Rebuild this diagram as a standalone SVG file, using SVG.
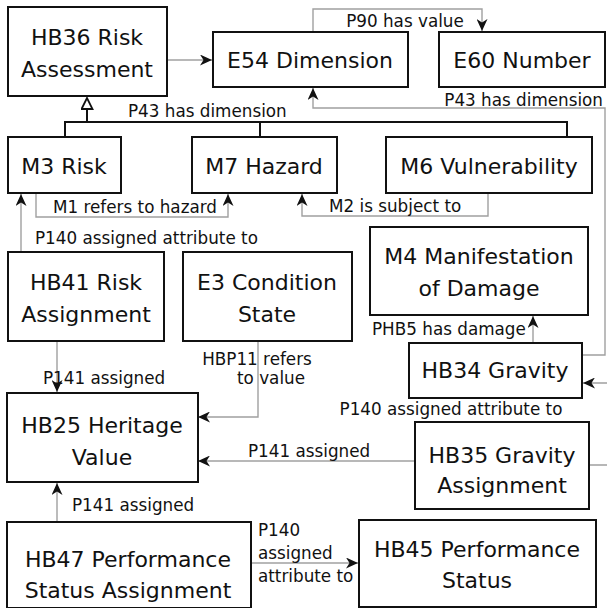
<svg xmlns="http://www.w3.org/2000/svg" width="607" height="608" viewBox="0 0 607 608">
<style>
.box{fill:#fff;stroke:#111;stroke-width:2}
.nt{font-family:"DejaVu Sans",Verdana,sans-serif;font-size:22px;fill:#111;text-anchor:middle}
.lb{font-family:"DejaVu Sans",Verdana,sans-serif;font-size:16.8px;fill:#111}
.c{fill:none;stroke:#a0a0a0;stroke-width:1.4}
.t{fill:none;stroke:#111;stroke-width:2}
</style>
<defs>
<marker id="ah" markerUnits="userSpaceOnUse" markerWidth="13" markerHeight="11" refX="12" refY="5.5" orient="auto">
<path d="M0,0 L12,5.5 L0,11 L3.5,5.5 Z" fill="#111"/>
</marker>
<marker id="tri" markerUnits="userSpaceOnUse" markerWidth="14" markerHeight="14" refX="12" refY="6" orient="auto">
<path d="M1,0.5 L12,6 L1,11.5 Z" fill="#fff" stroke="#111" stroke-width="1.8"/>
</marker>
</defs>
<rect width="607" height="608" fill="#fff"/>
<g id="connectors">
<path class="c" d="M167,60 H212" marker-end="url(#ah)"/>
<path class="c" d="M313,32 V9 H482 V31" marker-end="url(#ah)"/>
<path class="c" d="M582,355 H605 V108 H313 V88" marker-end="url(#ah)"/>
<path class="t" d="M65,137 V122 H567 V137 M260,122 V137"/>
<path class="t" d="M87,122 V98" marker-end="url(#tri)"/>
<path class="c" d="M36,193 V217 H228 V194" marker-end="url(#ah)"/>
<path class="c" d="M488,193 V216 H302 V194" marker-end="url(#ah)"/>
<path class="c" d="M21,252 V194" marker-end="url(#ah)"/>
<path class="c" d="M57,341 V392" marker-end="url(#ah)"/>
<path class="c" d="M258,340 V417 H198" marker-end="url(#ah)"/>
<path class="c" d="M533,343 V316" marker-end="url(#ah)"/>
<path class="c" d="M589,465 H612 V383 H583" marker-end="url(#ah)"/>
<path class="c" d="M415,461 H198" marker-end="url(#ah)"/>
<path class="c" d="M57,522 V483" marker-end="url(#ah)"/>
<path class="c" d="M252,563 H358" marker-end="url(#ah)"/>
<text class="lb" x="405" y="27" text-anchor="middle">P90 has value</text>
<text class="lb" x="603" y="106" text-anchor="end">P43 has dimension</text>
<text class="lb" x="128" y="117">P43 has dimension</text>
<text class="lb" x="53" y="213">M1 refers to hazard</text>
<text class="lb" x="329" y="212">M2 is subject to</text>
<text class="lb" x="35" y="244">P140 assigned attribute to</text>
<text class="lb" x="372" y="335">PHB5 has damage</text>
<text class="lb" x="43" y="384">P141 assigned</text>
<text class="lb" x="257" y="365" text-anchor="middle">HBP11 refers</text>
<text class="lb" x="271" y="384" text-anchor="middle">to value</text>
<text class="lb" x="451" y="415" text-anchor="middle">P140 assigned attribute to</text>
<text class="lb" x="248" y="457">P141 assigned</text>
<text class="lb" x="72" y="511">P141 assigned</text>
<text class="lb" x="258" y="536">P140</text>
<text class="lb" x="258" y="559">assigned</text>
<text class="lb" x="258" y="582">attribute to</text>
</g>
<g id="HB36"><rect class="box" x="8" y="7" width="159" height="89"/><text class="nt" x="87" y="45">HB36 Risk</text><text class="nt" x="87" y="77">Assessment</text></g>
<g id="E54"><rect class="box" x="213" y="32" width="195" height="55"/><text class="nt" x="310" y="68">E54 Dimension</text></g>
<g id="E60"><rect class="box" x="439" y="32" width="166" height="55"/><text class="nt" x="522" y="68">E60 Number</text></g>
<g id="M3"><rect class="box" x="8" y="137" width="113" height="56"/><text class="nt" x="64" y="174">M3 Risk</text></g>
<g id="M7"><rect class="box" x="192" y="137" width="145" height="56"/><text class="nt" x="264" y="174">M7 Hazard</text></g>
<g id="M6"><rect class="box" x="386" y="137" width="206" height="56"/><text class="nt" x="489" y="174">M6 Vulnerability</text></g>
<g id="HB41"><rect class="box" x="8" y="252" width="156" height="89"/><text class="nt" x="86" y="290">HB41 Risk</text><text class="nt" x="86" y="322">Assignment</text></g>
<g id="E3"><rect class="box" x="183" y="252" width="169" height="89"/><text class="nt" x="267" y="290">E3 Condition</text><text class="nt" x="267" y="322">State</text></g>
<g id="M4"><rect class="box" x="370" y="227" width="218" height="88"/><text class="nt" x="479" y="264">M4 Manifestation</text><text class="nt" x="479" y="296">of Damage</text></g>
<g id="HB34"><rect class="box" x="409" y="343" width="173" height="55"/><text class="nt" x="495" y="378">HB34 Gravity</text></g>
<g id="HB25"><rect class="box" x="7" y="393" width="191" height="89"/><text class="nt" x="102" y="433">HB25 Heritage</text><text class="nt" x="102" y="465">Value</text></g>
<g id="HB35"><rect class="box" x="415" y="422" width="174" height="87"/><text class="nt" x="502" y="463">HB35 Gravity</text><text class="nt" x="502" y="493">Assignment</text></g>
<g id="HB47"><rect class="box" x="7" y="522" width="244" height="86"/><text class="nt" x="128" y="567">HB47 Performance</text><text class="nt" x="128" y="598">Status Assignment</text></g>
<g id="HB45"><rect class="box" x="359" y="520" width="237" height="87"/><text class="nt" x="477" y="557">HB45 Performance</text><text class="nt" x="477" y="588">Status</text></g>
</svg>
